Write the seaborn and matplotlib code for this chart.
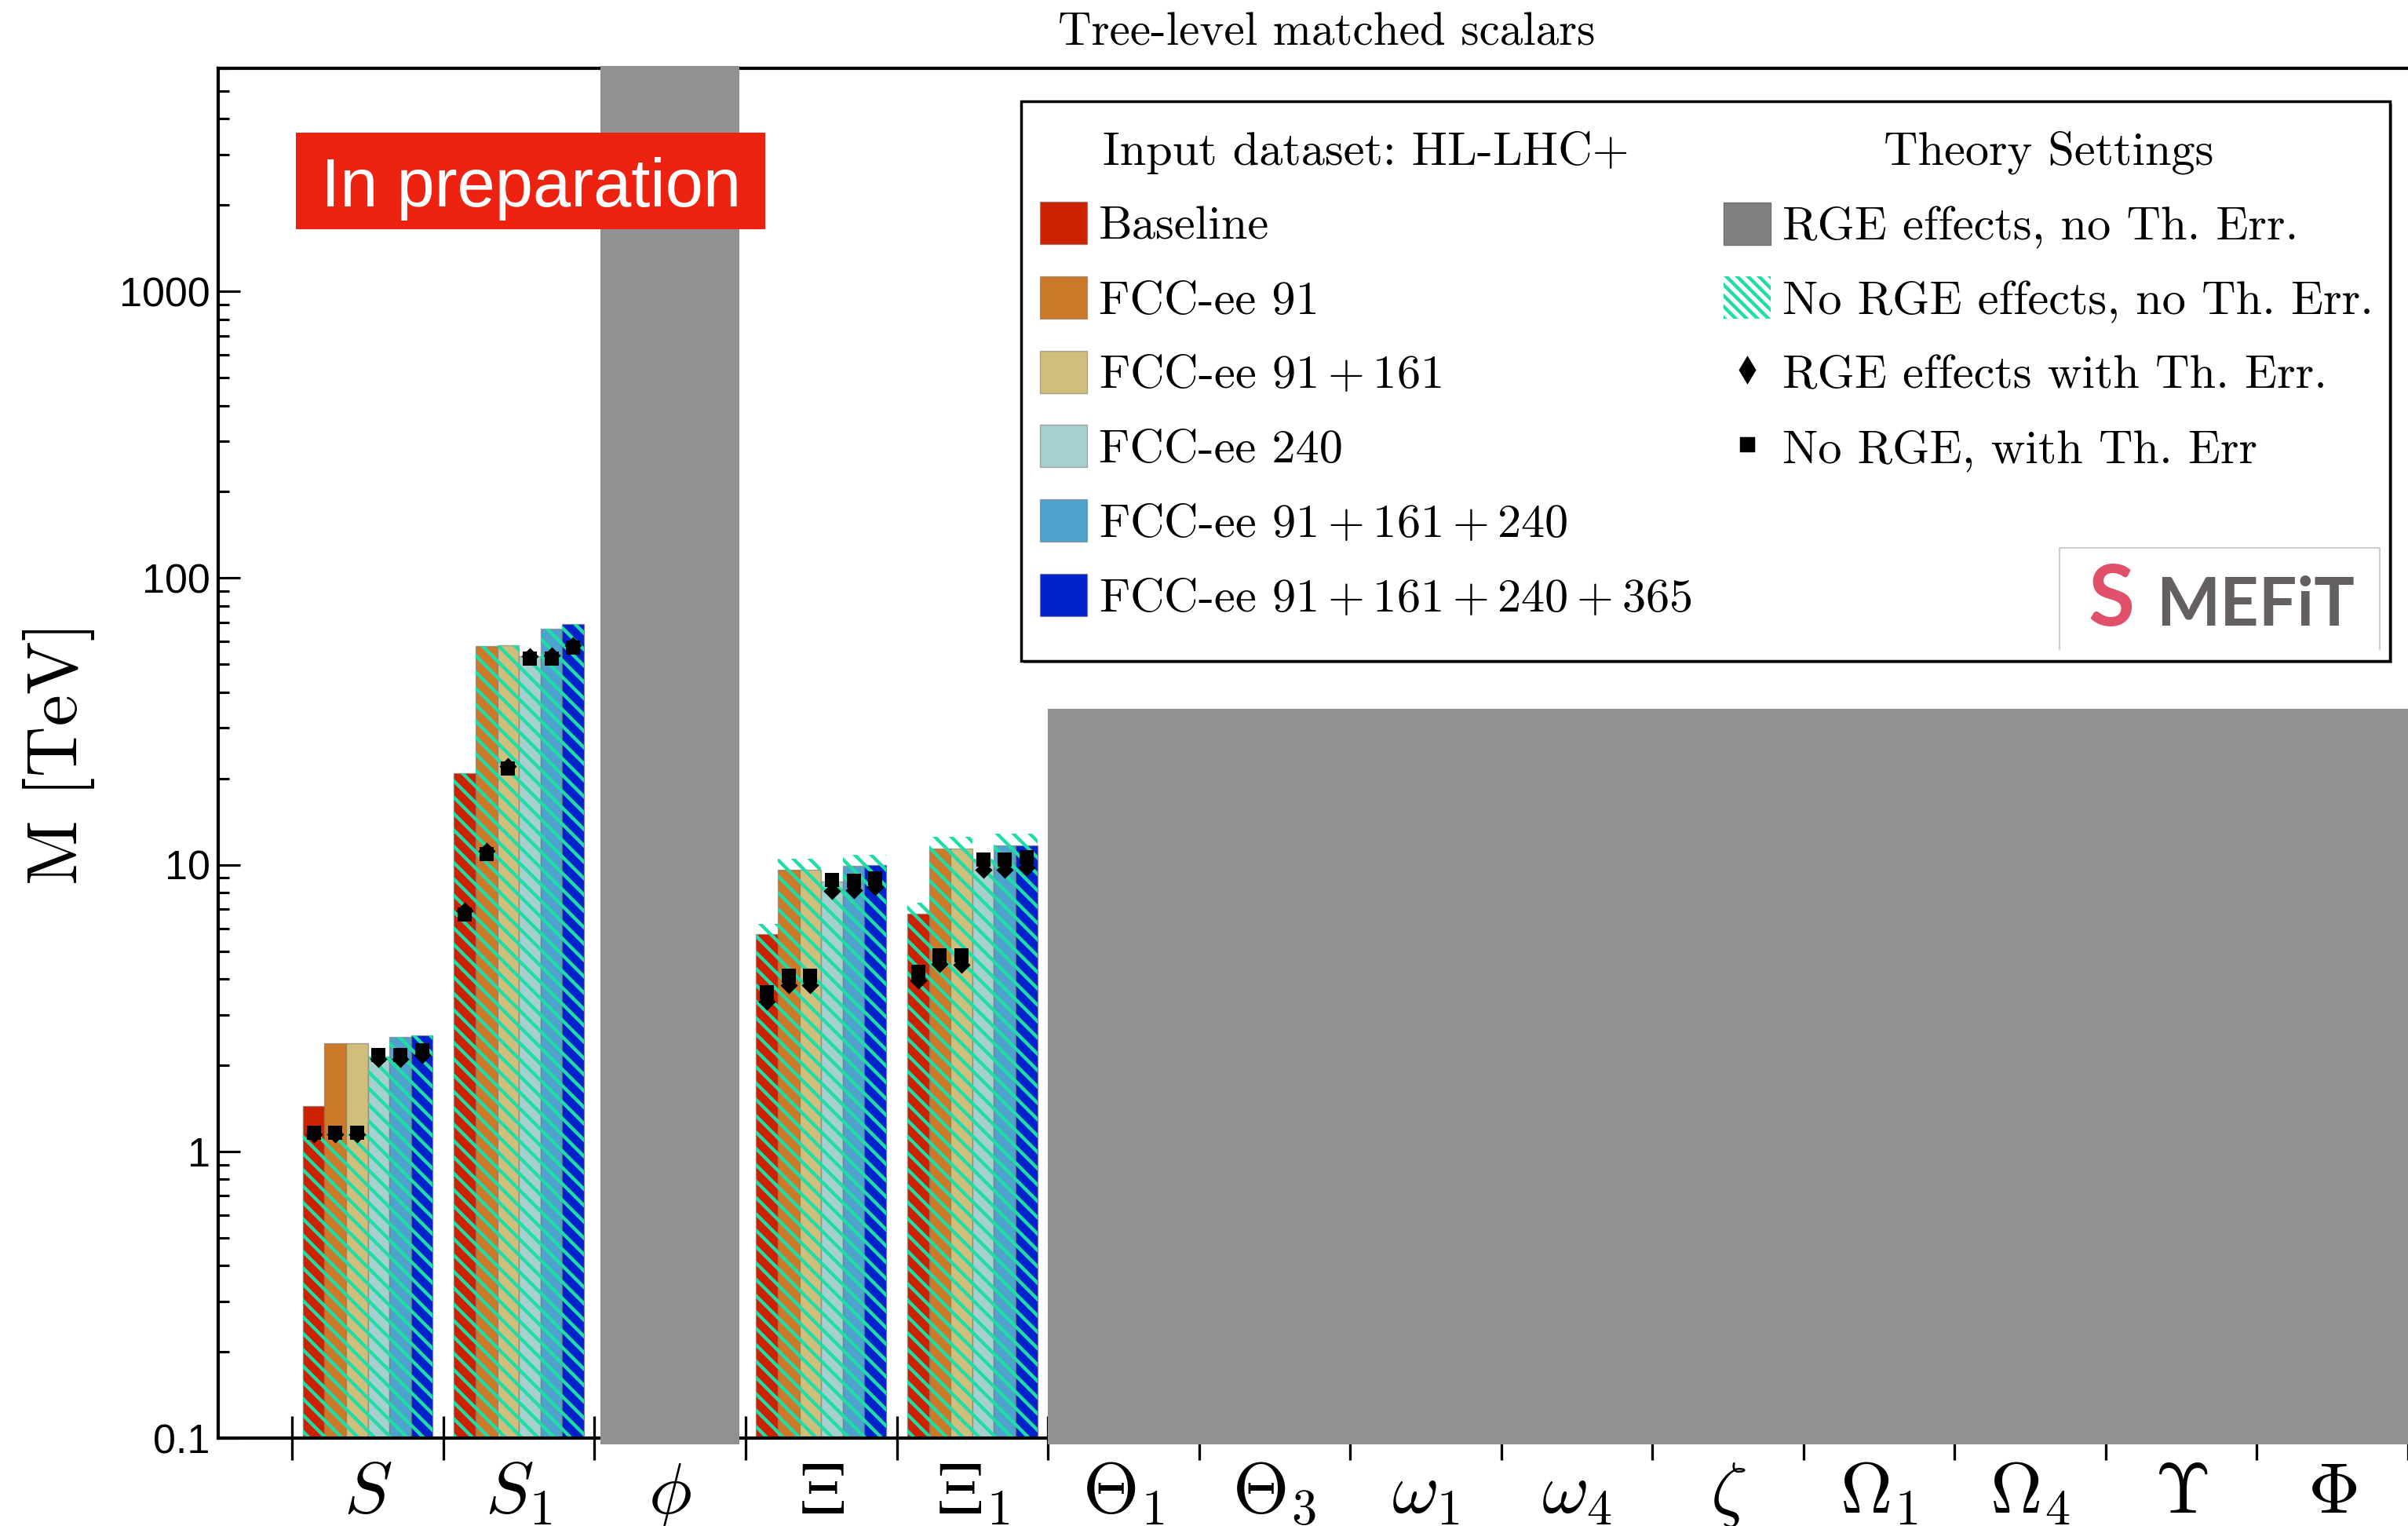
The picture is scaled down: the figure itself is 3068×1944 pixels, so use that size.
import numpy as np
import pandas as pd
import matplotlib
matplotlib.use("Agg")
import matplotlib.pyplot as plt
import seaborn as sns
from matplotlib.patches import Patch, Rectangle
from matplotlib.lines import Line2D
from matplotlib.font_manager import FontProperties

# ---------------------------------------------------------------- data
particles = [r"$S$", r"$S_1$", r"$\phi$", r"$\Xi$", r"$\Xi_1$", r"$\Theta_1$", r"$\Theta_3$",
             r"$\omega_1$", r"$\omega_4$", r"$\zeta$", r"$\Omega_1$", r"$\Omega_4$",
             r"$\Upsilon$", r"$\Phi$"]

datasets = ["Baseline", "FCC-ee 91", "FCC-ee $91+161$", "FCC-ee 240",
            "FCC-ee $91+161+240$", "FCC-ee $91+161+240+365$"]
dataset_colors = ["#CC2200", "#CC7A29", "#D0BE7C", "#A6D0CE", "#4FA2CB", "#0022CC"]

fitted_particles = [r"$S$", r"$S_1$", r"$\Xi$", r"$\Xi_1$"]

# M [TeV]; rows follow fitted_particles, columns follow datasets
rge_no_th = [            # RGE effects, no Th. Err. (solid bars)
    [1.44, 2.39, 2.39, 2.14, 2.51, 2.54],
    [20.8, 58.1, 58.3, 53.2, 66.4, 68.9],
    [5.71, 9.61, 9.61, 8.75, 9.92, 9.96],
    [6.76, 11.4, 11.4, 10.3, 11.7, 11.7],
]
norge_no_th = [          # No RGE effects, no Th. Err. (hatched bars)
    [1.15, 1.15, 1.15, 2.14, 2.51, 2.54],
    [20.8, 58.1, 58.3, 53.2, 66.4, 68.9],
    [6.2, 10.5, 10.5, 9.0, 10.84, 10.84],
    [7.36, 12.5, 12.5, 10.5, 12.84, 12.84],
]
rge_th = [               # RGE effects with Th. Err. (diamonds)
    [1.15, 1.15, 1.15, 2.10, 2.10, 2.17],
    [6.9, 11.2, 22.1, 53.5, 53.7, 58.4],
    [3.33, 3.81, 3.81, 8.10, 8.14, 8.35],
    [3.95, 4.52, 4.49, 9.6, 9.6, 9.77],
]
norge_th = [             # No RGE, with Th. Err (squares)
    [1.16, 1.16, 1.16, 2.17, 2.17, 2.25],
    [6.7, 10.9, 21.6, 52.3, 52.5, 57.1],
    [3.59, 4.11, 4.11, 8.83, 8.80, 8.95],
    [4.23, 4.82, 4.82, 10.45, 10.45, 10.63],
]

gray_particles = [r"$\phi$", r"$\Theta_1$", r"$\Theta_3$", r"$\omega_1$", r"$\omega_4$",
                  r"$\zeta$", r"$\Omega_1$", r"$\Omega_4$", r"$\Upsilon$", r"$\Phi$"]
gray_values = [6100, 35, 35, 35, 35, 35, 35, 35, 35, 35]
gray_floor = 0.095

ytick_values = [0.1, 1, 10, 100, 1000]
ytick_labels = ["0.1", "1", "10", "100", "1000"]

# ---------------------------------------------------------------- style
sns.set_style("ticks")
plt.rcParams.update({
    "font.family": ["Liberation Sans", "DejaVu Sans"],
    "mathtext.fontset": "cm",
    "text.color": "black",
    "axes.edgecolor": "black",
    "axes.labelcolor": "black",
    "xtick.color": "black",
    "ytick.color": "black",
    "hatch.linewidth": 1.25,
})
teal = "#1FDDA6"
gray = "#919191"
cm_font = ["cmr10", "DejaVu Serif"]

W, H, DPI = 3068, 1944, 250
fig = plt.figure(figsize=(W / DPI, H / DPI), dpi=DPI)
ax = fig.add_axes([278 / W, 1 - 1832 / H, 1 - 278 / W, (1832 - 87) / H])

# ---------------------------------------------------------------- long table
rows = []
for i, p in enumerate(fitted_particles):
    for j, d in enumerate(datasets):
        rows.append(dict(particle=p, dataset=d, dset_idx=j,
                         rge_no_th=rge_no_th[i][j], norge_no_th=norge_no_th[i][j],
                         rge_th=rge_th[i][j], norge_th=norge_th[i][j]))
df = pd.DataFrame(rows)

group_width = 0.86
each_w = group_width / len(datasets)
cat_index = {p: k for k, p in enumerate(particles)}
df["xpos"] = df["particle"].map(cat_index) + (df["dset_idx"] - (len(datasets) - 1) / 2) * each_w

# solid bars
sns.barplot(data=df, x="particle", y="rge_no_th", hue="dataset", order=particles,
            hue_order=datasets, palette=dataset_colors, width=group_width, gap=0,
            dodge=True, errorbar=None, saturation=1, legend=False, ax=ax,
            edgecolor=(0.45, 0.45, 0.45, 0.6), linewidth=0.4)
n0 = len(ax.patches)
# hatched bars
sns.barplot(data=df, x="particle", y="norge_no_th", hue="dataset", order=particles,
            hue_order=datasets, palette=[teal] * len(datasets), width=group_width, gap=0,
            dodge=True, errorbar=None, saturation=1, legend=False, ax=ax, fill=False,
            linewidth=0)
for p in ax.patches[n0:]:
    p.set_facecolor("none")
    p.set_edgecolor(teal)
    p.set_linewidth(0)
    p.set_hatch("\\\\\\\\")

# markers
sns.scatterplot(data=df, x="xpos", y="rge_th", marker="D", s=4.5 ** 2, color="black",
                linewidth=0, zorder=4, legend=False, ax=ax)
sns.scatterplot(data=df, x="xpos", y="norge_th", marker="s", s=5.0 ** 2, color="black",
                linewidth=0, zorder=4, legend=False, ax=ax)

# gray (RGE effects, no Th. Err. only) bars
gx = [cat_index[p] for p in gray_particles]
gw = [0.92 if p == r"$\phi$" else 1.0 for p in gray_particles]
ax.bar(gx, np.array(gray_values) - gray_floor, bottom=gray_floor, width=gw,
       color=gray, linewidth=0, zorder=3, clip_on=False)

# ---------------------------------------------------------------- axes
ax.set_yscale("log")
ax.set_ylim(0.1, 6000)
ax.set_xlim(-0.99, len(particles) - 0.5)
ax.set_yticks(ytick_values, labels=ytick_labels)
ax.set_xticks(range(len(particles)), labels=particles)
ax.set_xticks(np.arange(len(particles) + 1) - 0.5, minor=True)
ax.set_xlabel("")
ax.set_ylabel("M [TeV]", fontfamily=cm_font, fontsize=26, labelpad=9)

ax.tick_params(axis="x", which="major", length=0, pad=27.4, labelsize=26.5)
ax.tick_params(axis="x", which="minor", direction="inout", length=16.4, width=0.95,
               bottom=True, top=False)
ax.tick_params(axis="y", which="major", direction="in", length=8, width=0.9,
               labelsize=15, pad=3, left=True, right=False)
ax.tick_params(axis="y", which="minor", direction="in", length=4, width=0.9,
               left=True, right=False)
for lab in ax.get_xticklabels():
    lab.set_verticalalignment("baseline")

ax.spines["right"].set_visible(False)
for s in ("left", "top", "bottom"):
    ax.spines[s].set_linewidth(1.2)

# ---------------------------------------------------------------- title / labels
fig.text(1690 / W, 1 - 58 / H, "Tree-level matched scalars", ha="center", va="baseline",
         fontfamily=cm_font, fontsize=17)

fig.add_artist(Rectangle((377 / W, 1 - 292 / H), (975 - 377) / W, (292 - 169) / H,
                         transform=fig.transFigure, facecolor="#EE2211",
                         edgecolor="none", zorder=5))
fig.text(677 / W, 1 - 263 / H, "In preparation", color="white", fontsize=25,
         fontfamily=["Liberation Sans", "DejaVu Sans"], ha="center", va="baseline", zorder=6)

# ---------------------------------------------------------------- legend
fx0, fy0, fx1, fy1 = 1301, 129, 3045, 842
fig.add_artist(Rectangle(((fx0 + 3) / W, 1 - (fy1 + 3) / H), (fx1 - fx0) / W, (fy1 - fy0) / H,
                         transform=fig.transFigure, facecolor="0.55", edgecolor="none",
                         zorder=3.9))
fig.add_artist(Rectangle((fx0 / W, 1 - fy1 / H), (fx1 - fx0) / W, (fy1 - fy0) / H,
                         transform=fig.transFigure, facecolor="white", edgecolor="black",
                         linewidth=1.0, zorder=4))

fp = FontProperties(family=cm_font, size=17.4)
leg_kw = dict(loc="upper left", bbox_transform=fig.transFigure, frameon=False, prop=fp,
              title_fontproperties=fp, borderpad=0, borderaxespad=0, handlelength=1.0,
              handleheight=1.0, handletextpad=0.24, labelspacing=0.58)

ds_handles = [Patch(facecolor=c, edgecolor=(0.4, 0.4, 0.4, 0.5), linewidth=0.4)
              for c in dataset_colors]
leg1 = fig.legend(ds_handles, datasets, bbox_to_anchor=(1325 / W, 1 - 167 / H),
                  title="Input dataset: HL-LHC+", **leg_kw)

theory_labels = ["RGE effects, no Th. Err.", "No RGE effects, no Th. Err.",
                 "RGE effects with Th. Err.", "No RGE, with Th. Err"]
th_handles = [Patch(facecolor="#808080", edgecolor="#707070", linewidth=0.4),
              Patch(facecolor="white", edgecolor=teal, hatch="\\\\\\\\\\\\", linewidth=0),
              Line2D([], [], ls="none", marker="d", markersize=6.3, color="black"),
              Line2D([], [], ls="none", marker="s", markersize=4.6, color="black")]
leg2 = fig.legend(th_handles, theory_labels, bbox_to_anchor=(2196 / W, 1 - 167 / H),
                  title="Theory Settings", **leg_kw)
leg1.set_zorder(5)
leg2.set_zorder(5)

# logo
lx0, lx1, ly0, ly1 = 2624, 3032, 698, 828
fig.add_artist(Line2D([lx0 / W, lx0 / W, lx1 / W, lx1 / W],
                      [1 - ly1 / H, 1 - ly0 / H, 1 - ly0 / H, 1 - ly1 / H],
                      transform=fig.transFigure, color="#C8C8C8", linewidth=0.5, zorder=6))
fig.text(2747 / W, 1 - 797 / H, "MEFiT", color="#646060", fontfamily=["Lato", "DejaVu Sans"],
         fontweight="bold", fontsize=24.8, ha="left", va="baseline", zorder=6)
fig.text(2690 / W, 1 - 797 / H, "S", color="#E0506A", fontfamily=["Lato", "DejaVu Sans"],
         fontweight="bold", fontsize=31, ha="center", va="baseline", zorder=6)

fig.savefig("out.png", dpi=DPI)
